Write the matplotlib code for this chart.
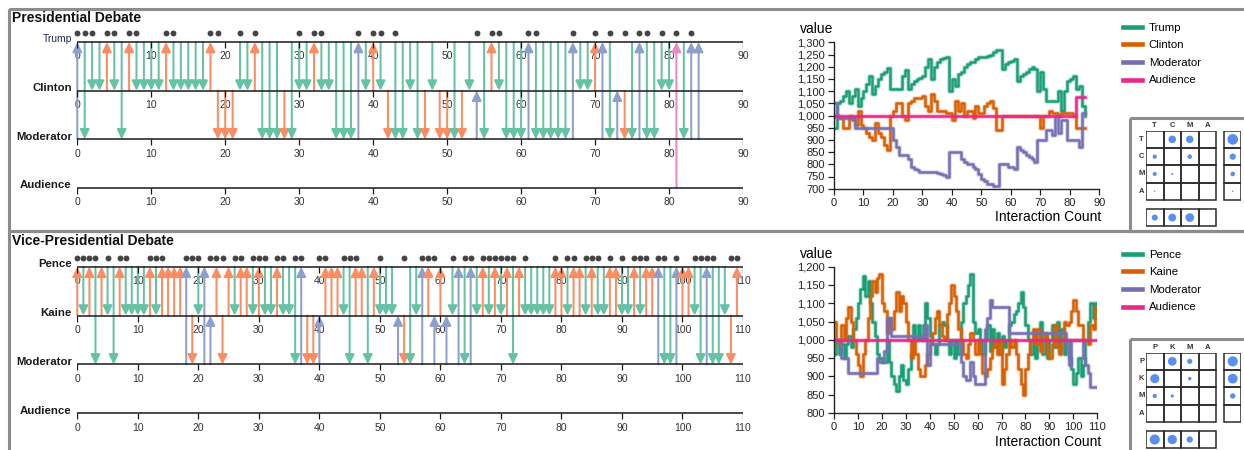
import matplotlib
matplotlib.use("Agg")
import matplotlib.pyplot as plt
import matplotlib.patheffects as pe
from matplotlib.patches import Rectangle
from matplotlib.ticker import FuncFormatter, MultipleLocator
import numpy as np

W, H = 1244, 450

ARROW_COLORS = ["#66c2a5", "#fc8d62", "#8da0cb", "#e78ac3"]
LINE_COLORS = ["#1b9e77", "#d95f02", "#7570b3", "#e7298a"]
DOT_BLUE = "#5a8ff2"
BORDER = "#8c8c8c"

# ---- presidential debate -------------------------------------------------
PRES_NAMES = ["Trump", "Clinton", "Moderator", "Audience"]
PRES_ABBR = ["T", "C", "M", "A"]
# speaker / addressee of every interaction, in order
PRES_FROM = list("MTTTCTTCTT" "TTCTTTTTCC" "CCTTCTTTCT" "TTCTTTTTMT"
                 "CTCTTTTCTC" "CTCTMTCTTT" "TMTTTTTMTT" "CMTMCTMTTT" "TATMM")
PRES_TO = list("TMCCTCMTCC" "CCTCCCCCTM" "MMCCTMMMMM" "CCTCCMMMTC"
               "TCMMMCMMCM" "MMMCCMTCMM" "MTMMMMMTCC" "TTMCMMTMMC" "CTMTT")
PRES_DOTS = [0, 1, 2, 4, 5, 7, 8, 12, 13, 18, 19, 22, 24, 30, 32, 33, 38, 40, 41,
             43, 54, 56, 57, 61, 62, 67, 70, 72, 74, 76, 77, 79, 81, 83]

PRES_TRUMP = [950, 1050, 1060, 1080, 1100, 1050, 1080, 1110, 1040, 1070,
              1100, 1130, 1160, 1090, 1120, 1150, 1170, 1180, 1195, 1110,
              1110, 1110, 1110, 1160, 1185, 1110, 1130, 1140, 1150, 1155,
              1160, 1200, 1230, 1150, 1200, 1220, 1230, 1235, 1240, 1100,
              1150, 1120, 1170, 1180, 1200, 1210, 1220, 1220, 1230, 1240,
              1240, 1240, 1245, 1250, 1260, 1270, 1270, 1190, 1210, 1220,
              1225, 1230, 1140, 1160, 1170, 1180, 1190, 1200, 1190, 1100,
              1180, 1110, 1060, 1060, 1060, 1060, 1100, 1020, 1100, 1140,
              1150, 1160, 1110, 1120, 1040, 1000]
PRES_CLINTON = [1000, 1000, 990, 950, 950, 1000, 980, 960, 1020, 960,
                950, 930, 910, 900, 970, 930, 910, 880, 860, 1000,
                1020, 1050, 1050, 1000, 980, 1050, 1060, 1070, 1070, 1070,
                1080, 1040, 1020, 1090, 1060, 1020, 1020, 1020, 1010, 1010,
                980, 1060, 1020, 1050, 1000, 1020, 1020, 990, 1040, 1010,
                1010, 1040, 1050, 1060, 1030, 940, 940, 1000, 1000, 1000,
                1000, 1000, 1000, 1000, 1000, 1000, 1000, 1000, 1000, 1000,
                950, 1000, 1000, 1020, 1010, 1010, 1000, 1010, 1010, 1010,
                1010, 1000, 950, 950, 950, 950]
PRES_MOD = [1050, 990, 990, 990, 990, 990, 990, 950, 950, 950,
            950, 950, 950, 950, 950, 950, 950, 950, 950, 950,
            900, 870, 840, 840, 840, 820, 790, 780, 775, 770,
            770, 770, 770, 770, 770, 765, 760, 755, 750, 850,
            850, 850, 850, 820, 810, 800, 800, 790, 780, 760,
            740, 730, 720, 720, 710, 710, 800, 800, 800, 790,
            790, 780, 870, 860, 850, 840, 830, 820, 810, 900,
            900, 900, 940, 940, 920, 1000, 930, 980, 980, 900,
            900, 900, 900, 870, 1010, 1010]
PRES_AUD = [1000] * 82 + [1075] * 4

# ---- vice-presidential debate --------------------------------------------
VP_NAMES = ["Pence", "Kaine", "Moderator", "Audience"]
VP_ABBR = ["P", "K", "M", "A"]
VP_FROM = list("KPKPKPPKPP" "PPKPKKKKMK" "PMMKKKPKKP" "KPPKPPPMKK"
               "MKKKPPKKPK" "PPPMKPPMKM" "KMPMPMPKPK" "PKPKPPPPPK"
               "KPKKPKPPKK" "PPKPKKMPPM" "KKPPMPPPKK")
VP_TO = list("PKPMPKMPKK" "KKPKPPPPPM" "KPKPMPKPPK" "PKKPKKMPMM"
             "KPPPKMPPMP" "KKKKMMKPPK" "PKKPMPKPKP" "KPMPKKKKKP"
             "PKPPKPKKPP" "KKPKPPPMMP" "PPKMPMMKMP")
VP_DOTS = [0, 1, 2, 3, 5, 7, 8, 12, 13, 14, 18, 19, 20, 22, 23, 24, 26, 27, 29,
           30, 31, 33, 34, 36, 37, 40, 41, 44, 45, 46, 50, 54, 57, 58, 59, 62,
           64, 65, 67, 68, 69, 70, 71, 72, 74, 79, 81, 82, 84, 85, 86, 88, 90,
           92, 93, 94, 96, 97, 99, 102, 103, 104, 105, 108, 109]

VP_PENCE = [960, 1000, 960, 990, 950, 990, 1010, 980, 1030, 1060,
            1100, 1140, 1175, 1120, 1160, 1100, 1050, 1010, 960, 950,
            940, 940, 1000, 940, 900, 880, 860, 900, 930, 890,
            880, 920, 960, 1040, 1000, 1040, 1000, 1040, 1100, 1060,
            1010, 990, 960, 990, 1040, 1050, 1040, 1000, 960, 1000,
            950, 1000, 960, 1050, 1100, 1120, 1150, 1180, 1050, 1020,
            1030, 1000, 960, 1000, 1040, 970, 1030, 980, 1020, 960,
            1010, 980, 1000, 1040, 1050, 1070, 1080, 1100, 1130, 1090,
            1040, 1000, 960, 1000, 950, 990, 1050, 960, 1010, 950,
            1000, 1040, 980, 1050, 970, 1030, 960, 1000, 950, 920,
            880, 910, 950, 900, 930, 1000, 1050, 1100, 1060, 1100,
            1100]
VP_KAINE = [1050, 1000, 990, 1040, 1000, 1060, 1090, 1050, 1000, 960,
            930, 900, 960, 1000, 1060, 1120, 1160, 1130, 1170, 1180,
            1100, 1080, 1020, 1060, 1030, 1080, 1130, 1080, 1120, 1100,
            1050, 1000, 950, 1000, 960, 920, 900, 900, 930, 960,
            1000, 1020, 1060, 1080, 1040, 1010, 1000, 1070, 1100, 1150,
            1120, 1080, 1030, 1000, 960, 950, 990, 1020, 1000, 960,
            1000, 960, 910, 900, 920, 950, 980, 1000, 960, 1000,
            880, 920, 960, 1000, 980, 1000, 960, 920, 880, 850,
            920, 960, 1000, 1030, 990, 1030, 970, 1000, 1020, 960,
            950, 990, 1040, 980, 960, 1000, 1050, 1040, 1050, 1080,
            1110, 1080, 1040, 1040, 1000, 1000, 990, 1040, 1030, 1090,
            1090]
VP_MOD = [1000, 1000, 1000, 950, 950, 950, 910, 910, 910, 910,
          910, 910, 910, 910, 910, 910, 910, 910, 950, 940,
          940, 970, 1060, 1060, 1010, 1010, 1010, 1010, 1010, 1010,
          1010, 1010, 1010, 1010, 1010, 1010, 1010, 1000, 1040, 930,
          990, 990, 990, 990, 990, 990, 990, 990, 990, 990,
          990, 990, 990, 940, 900, 890, 890, 940, 900, 880,
          880, 880, 880, 1030, 1060, 1110, 1090, 1090, 1090, 1090,
          1090, 1090, 1090, 1020, 1020, 1020, 1020, 1020, 1020, 1020,
          1020, 1020, 1020, 1020, 1020, 1020, 1020, 1020, 1020, 1020,
          1020, 1020, 1020, 1020, 1020, 1020, 1020, 980, 930, 1000,
          1000, 1000, 1000, 1000, 950, 930, 910, 870, 870, 870,
          870]
VP_AUD = [1000] * 111


def px_axes(fig, x0, y0, x1, y1, **kw):
    """Axes placed by pixel box (origin top-left)."""
    return fig.add_axes([x0 / W, 1 - y1 / H, (x1 - x0) / W, (y1 - y0) / H], **kw)


def draw_timeline(fig, title, title_y, names, abbr, rows_px, xmax, src, dst, dots):
    x0, x1, pad = 77.3, 743.0, 24
    ax = px_axes(fig, x0, rows_px[0] - pad, x1, rows_px[-1] + pad)
    step = (rows_px[-1] - rows_px[0]) / 3
    ax.set_xlim(0, xmax)
    ax.set_ylim(3 + pad / step, -pad / step)
    ax.axis("off")
    u = lambda p: p / step
    per_px = xmax / (x1 - x0)

    for i, (s, d) in enumerate(zip(src, dst)):
        rs, rd = abbr.index(s), abbr.index(d)
        ax.annotate("", xy=(i, rd), xytext=(i, rs),
                    arrowprops=dict(arrowstyle="-|>,head_length=0.58,head_width=0.28",
                                    color=ARROW_COLORS[rs], lw=1.45, shrinkA=0, shrinkB=0,
                                    mutation_scale=10),
                    annotation_clip=False, zorder=2)

    ticks = np.arange(0, xmax + 1, 10)
    for r, name in enumerate(names):
        ax.plot([0, xmax], [r, r], color="#1a1a1a", lw=1.1, zorder=4, solid_capstyle="butt")
        ax.vlines(ticks, r, r + u(6), color="#1a1a1a", lw=0.9, zorder=4)
        for t in ticks:
            ax.text(t, r + u(14.5), str(t), ha="center", va="center", fontsize=7.5,
                    color="#333333", zorder=1)
        plain = (r == 0 and name == "Trump")
        ax.text(-5.5 * per_px, r + u(0.5), name, ha="right", va="baseline",
                fontsize=7.4 if plain else 8.2,
                fontweight="normal" if plain else "bold",
                color="#1f2a4d" if plain else "#1a1a1a")

    ax.scatter(dots, np.full(len(dots), -u(8.7)), s=18, color="#444444", zorder=5,
               clip_on=False, linewidths=0)
    fig.text(12.5 / W, 1 - title_y / H, title, fontsize=10, fontweight="bold",
             va="center", ha="left", color="#111111")


def draw_lines(fig, box, xmax, ylim, ystep, series, names, value_y, count_y, legend_y):
    ax = px_axes(fig, *box)
    ax.set_facecolor("none")
    for vals, c, n in zip(series, LINE_COLORS, names):
        ax.step(np.arange(len(vals)), vals, where="post", color=c, lw=1.8, label=n,
                path_effects=[pe.Stroke(linewidth=3.4, foreground=c, alpha=0.25), pe.Normal()])
    ax.set_xlim(0, xmax)
    ax.set_ylim(*ylim)
    ax.xaxis.set_major_locator(MultipleLocator(10))
    ax.yaxis.set_major_locator(MultipleLocator(ystep))
    ax.yaxis.set_major_formatter(FuncFormatter(lambda v, p: f"{int(v):,}"))
    for side in ("top", "right"):
        ax.spines[side].set_visible(False)
    for side in ("left", "bottom"):
        ax.spines[side].set_linewidth(1.0)
        ax.spines[side].set_color("#222222")
    ax.tick_params(length=4.3, width=0.9, labelsize=8, pad=2.2, colors="#222222")

    fig.text(800 / W, 1 - value_y / H, "value", fontsize=10, va="center", ha="left")
    fig.text(1101.5 / W, 1 - count_y / H, "Interaction Count", fontsize=10,
             va="center", ha="right")

    leg = ax.legend(loc="upper left", bbox_to_anchor=(1122.5 / W, 1 - legend_y / H),
                    bbox_transform=fig.transFigure, frameon=False, fontsize=8.2,
                    handlelength=1.75, handletextpad=0.55, labelspacing=0.67,
                    borderpad=0, borderaxespad=0)
    for h in leg.get_lines():
        h.set_linewidth(3.3)
        h.set_path_effects([])


def draw_matrix(fig, gx, gy, abbr, src, dst):
    cw, ch = 17.5, 17.3
    wcells, hcells = 5.457, 5.54
    ax = px_axes(fig, gx, gy, gx + cw * wcells, gy + ch * hcells)
    ax.set_xlim(0, wcells)
    ax.set_ylim(hcells, 0)
    ax.axis("off")

    counts = np.zeros((4, 4), dtype=int)
    for s, d in zip(src, dst):
        counts[abbr.index(s), abbr.index(d)] += 1
    size = lambda n: (2 * 0.72 * np.sqrt(n) * 0.72) ** 2

    grid = dict(fill=False, ec="#2a2a2a", lw=1.1)
    rx, by = 4.457, 4.52
    for r in range(4):
        for c in range(4):
            ax.add_patch(Rectangle((c, r), 1, 1, **grid))
        ax.add_patch(Rectangle((rx, r), 1, 1, **grid))
        ax.add_patch(Rectangle((r, by), 1, 1, **grid))
        ax.text(r + 0.5, -0.3, abbr[r], ha="center", va="center", fontsize=5.5,
                fontweight="bold", color="#333333")
        ax.text(-0.25, r + 0.5, abbr[r], ha="center", va="center", fontsize=5.5,
                fontweight="bold", color="#333333")

    rr, cc = np.nonzero(counts)
    ax.scatter(cc + 0.5, rr + 0.5, s=size(counts[rr, cc]), color=DOT_BLUE, linewidths=0)
    out_tot, in_tot = counts.sum(axis=1), counts.sum(axis=0)
    k = np.nonzero(out_tot)[0]
    ax.scatter(np.full(len(k), rx + 0.5), k + 0.5, s=size(out_tot[k]), color=DOT_BLUE,
               linewidths=0)
    k = np.nonzero(in_tot)[0]
    ax.scatter(k + 0.5, np.full(len(k), by + 0.5), s=size(in_tot[k]), color=DOT_BLUE,
               linewidths=0)


def main():
    plt.rcParams.update({
        "font.family": ["Liberation Sans", "DejaVu Sans"],
        "figure.facecolor": "white",
        "savefig.facecolor": "white",
    })
    fig = plt.figure(figsize=(W / 100, H / 100), dpi=100)

    frame = fig.add_axes([0, 0, 1, 1], zorder=-1)
    frame.set_xlim(0, W)
    frame.set_ylim(H, 0)
    frame.axis("off")
    for box in [(8.5, 8.5, 1400, 222.5), (8.5, 231, 1400, 300),
                (1129.5, 117.5, 300, 113.5), (1129.5, 338.7, 300, 300)]:
        frame.add_patch(Rectangle(box[:2], box[2], box[3], fill=False, ec=BORDER, lw=2.2))

    draw_timeline(fig, "Presidential Debate", 17.5, PRES_NAMES, PRES_ABBR,
                  [42, 91, 140, 188], 90, PRES_FROM, PRES_TO, PRES_DOTS)
    draw_timeline(fig, "Vice-Presidential Debate", 241.5, VP_NAMES, VP_ABBR,
                  [266.7, 315.7, 365, 413.3], 110, VP_FROM, VP_TO, VP_DOTS)

    draw_lines(fig, (834, 42.3, 1099.3, 188.7), 90, (700, 1300), 50,
               [PRES_TRUMP, PRES_CLINTON, PRES_MOD, PRES_AUD], PRES_NAMES,
               29.3, 217.3, 22.6)
    draw_lines(fig, (834, 266.7, 1097.3, 413), 110, (800, 1200), 50,
               [VP_PENCE, VP_KAINE, VP_MOD, VP_AUD], VP_NAMES,
               254, 441.7, 249.6)

    draw_matrix(fig, 1146, 130.7, PRES_ABBR, PRES_FROM, PRES_TO)
    draw_matrix(fig, 1146, 352.7, VP_ABBR, VP_FROM, VP_TO)

    fig.savefig("out.png", dpi=100)


if __name__ == "__main__":
    main()
